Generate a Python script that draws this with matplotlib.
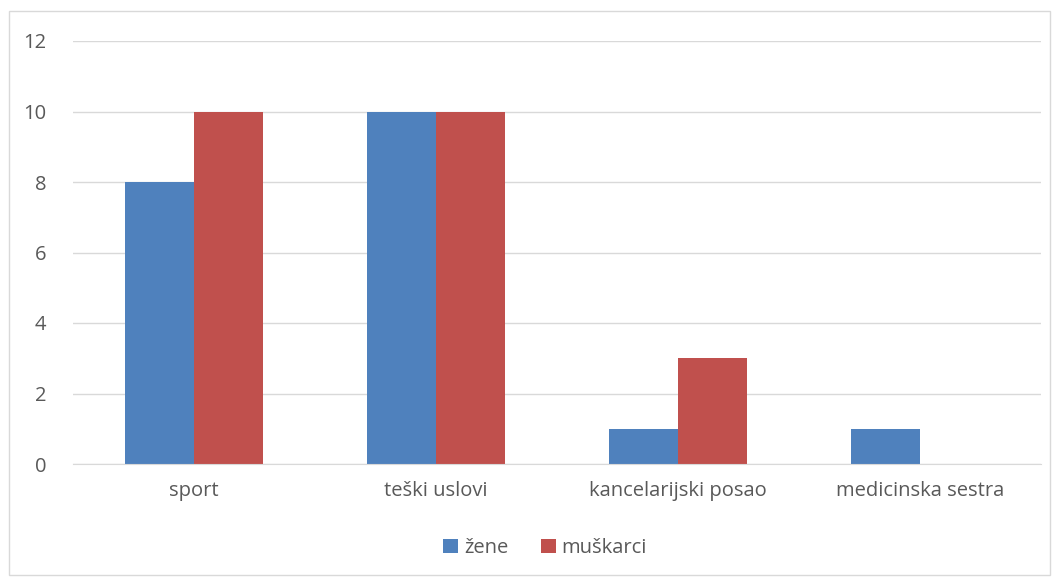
import matplotlib
matplotlib.use('Agg')
from matplotlib import pyplot as plt
from matplotlib.patches import Rectangle
import numpy as np

categories = ["sport", "teški uslovi", "kancelarijski posao", "medicinska sestra"]
zene = [8, 10, 1, 1]
muskarci = [10, 10, 3, 0]

plt.rcParams['font.family'] = ['Open Sans', 'DejaVu Sans']

fig = plt.figure(figsize=(10.59, 5.81), dpi=100)
# outer chart border
fig.patches.append(Rectangle((9 / 1059, 6 / 581), 1041 / 1059, 564 / 581,
                             transform=fig.transFigure, fill=False,
                             edgecolor='#D9D9D9', linewidth=1))

ax = fig.add_axes([73 / 1059, 117 / 581, 968 / 1059, 423 / 581])

x = np.arange(len(categories))
w = 0.285
ax.bar(x - w / 2, zene, w, color='#4F81BD', label='žene')
ax.bar(x + w / 2, muskarci, w, color='#C0504D', label='muškarci')

ax.set_xlim(-0.5, 3.5)
ax.set_ylim(0, 12)
ax.set_yticks(range(0, 13, 2))
ax.set_xticks(x)
ax.set_xticklabels(categories)
ax.grid(axis='y', color='#D9D9D9', linewidth=1)
ax.set_axisbelow(True)
for s in ['top', 'right', 'left']:
    ax.spines[s].set_visible(False)
ax.spines['bottom'].set_color('#D9D9D9')
ax.tick_params(length=0, labelcolor='#595959', labelsize=14.5)
ax.tick_params(axis='y', pad=19)
ax.tick_params(axis='x', pad=12)

fig.legend(loc='center', bbox_to_anchor=(545 / 1059, 1 - 548 / 581), ncol=2,
           frameon=False, fontsize=14.5, labelcolor='#595959',
           handlelength=0.75, handleheight=0.75, handletextpad=0.3, columnspacing=1.6)

fig.savefig('out.png', dpi=100)
